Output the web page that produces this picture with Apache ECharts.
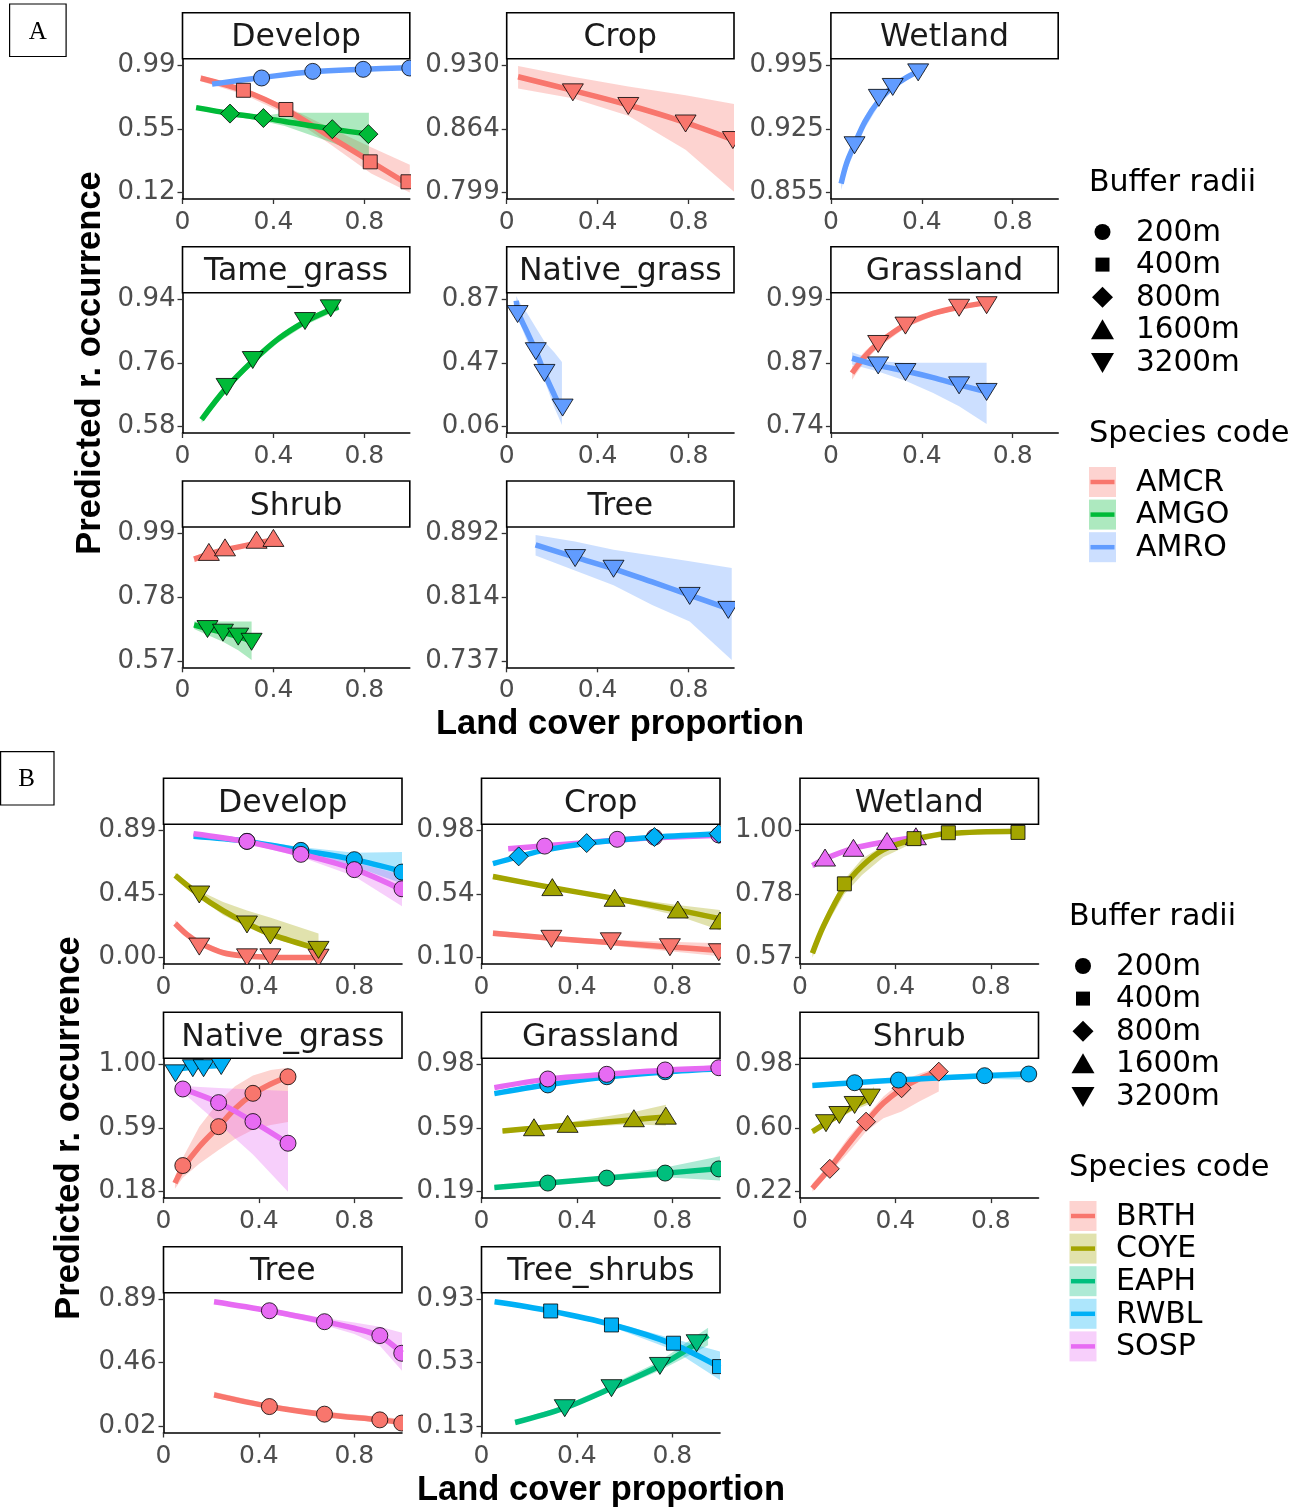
<!DOCTYPE html>
<html><head><meta charset="utf-8">
<script src="https://cdn.jsdelivr.net/npm/echarts/dist/echarts.min.js"></script>
<style>html,body{margin:0;padding:0;background:#fff;}#c{width:1314px;height:1509px;}</style>
</head><body><div id="c"></div>
<script>
// ---------- shared scales / legend data ----------
const X_TICKS = [0, 0.4, 0.8];
const X_LABELS = ['0', '0.4', '0.8'];
const BUFFERS = ['200m', '400m', '800m', '1600m', '3200m'];
const SPECIES_A = ['AMCR', 'AMGO', 'AMRO'];
const COLORS_A = ['#F8766D', '#00BA38', '#619CFF'];
const SPECIES_B = ['BRTH', 'COYE', 'EAPH', 'RWBL', 'SOSP'];
const COLORS_B = ['#F8766D', '#A3A500', '#00BF7D', '#00B0F6', '#E76BF3'];

// ---------- Figure A ----------  fit rows: [x, fit, lower, upper]; pts: [x, y]
const A_Develop_ticks = [0.12, 0.555, 0.99];
const A_Develop_labels = ['0.12', '0.55', '0.99'];
const A_Develop_AMCR_fit = [[0.08,0.90,0.88,0.92],[0.27,0.815,0.79,0.835],[0.455,0.685,0.655,0.71],[0.65,0.50,0.45,0.56],[0.83,0.33,0.25,0.43],[1.0,0.17,0.12,0.31]];
const A_Develop_AMCR_pts = [[0.268,0.818],[0.455,0.687],[0.826,0.330],[0.992,0.194]];
const A_Develop_AMGO_fit = [[0.06,0.70,0.685,0.715],[0.21,0.66,0.645,0.675],[0.36,0.628,0.605,0.645],[0.45,0.605,0.575,0.665],[0.66,0.553,0.46,0.665],[0.82,0.52,0.36,0.665]];
const A_Develop_AMGO_pts = [[0.209,0.659],[0.356,0.629],[0.659,0.553],[0.818,0.519]];
const A_Develop_AMRO_fit = [[0.13,0.86,0.855,0.865],[0.35,0.905,0.90,0.91],[0.57,0.945,0.94,0.95],[0.8,0.962,0.958,0.966],[1.0,0.972,0.968,0.976]];
const A_Develop_AMRO_pts = [[0.348,0.902],[0.573,0.947],[0.795,0.961],[1.0,0.970]];

const A_Crop_ticks = [0.799, 0.8645, 0.930];
const A_Crop_labels = ['0.799', '0.864', '0.930'];
const A_Crop_AMCR_fit = [[0.05,0.918,0.906,0.929],[0.29,0.904,0.896,0.918],[0.535,0.889,0.878,0.908],[0.787,0.871,0.843,0.899],[1.0,0.853,0.800,0.890]];
const A_Crop_AMCR_pts = [[0.291,0.902],[0.535,0.888],[0.787,0.870],[0.995,0.853]];

const A_Wetland_ticks = [0.855, 0.925, 0.995];
const A_Wetland_labels = ['0.855', '0.925', '0.995'];
const A_Wetland_AMRO_fit = [[0.045,0.865,0.858,0.872],[0.07,0.888,0.88,0.895],[0.104,0.908,0.90,0.915],[0.15,0.933,0.926,0.939],[0.211,0.956,0.951,0.961],[0.272,0.971,0.967,0.975],[0.33,0.981,0.978,0.984],[0.408,0.991,0.989,0.993]];
const A_Wetland_AMRO_pts = [[0.104,0.907],[0.211,0.959],[0.272,0.971],[0.384,0.987]];

const A_Tame_ticks = [0.58, 0.76, 0.94];
const A_Tame_labels = ['0.58', '0.76', '0.94'];
const A_Tame_AMGO_fit = [[0.084,0.60,0.59,0.612],[0.194,0.69,0.68,0.70],[0.309,0.765,0.755,0.775],[0.42,0.827,0.817,0.837],[0.539,0.876,0.866,0.886],[0.652,0.91,0.90,0.92],[0.686,0.918,0.908,0.928]];
const A_Tame_AMGO_pts = [[0.194,0.692],[0.309,0.768],[0.539,0.878],[0.652,0.914]];

const A_Native_ticks = [0.06, 0.465, 0.87];
const A_Native_labels = ['0.06', '0.47', '0.87'];
const A_Native_AMRO_fit = [[0.042,0.86,0.81,0.89],[0.052,0.78,0.74,0.86],[0.09,0.66,0.60,0.78],[0.128,0.54,0.50,0.69],[0.166,0.40,0.355,0.60],[0.21,0.26,0.18,0.53],[0.243,0.16,0.07,0.47]];
const A_Native_AMRO_pts = [[0.048,0.775],[0.128,0.539],[0.166,0.401],[0.246,0.181]];

const A_Grass_ticks = [0.74, 0.865, 0.99];
const A_Grass_labels = ['0.74', '0.87', '0.99'];
const A_Grass_AMCR_fit = [[0.093,0.845,0.832,0.858],[0.15,0.878,0.868,0.888],[0.208,0.903,0.895,0.911],[0.328,0.94,0.934,0.946],[0.45,0.962,0.957,0.967],[0.564,0.974,0.97,0.978],[0.688,0.983,0.979,0.987]];
const A_Grass_AMCR_pts = [[0.208,0.902],[0.328,0.938],[0.564,0.973],[0.685,0.978]];
const A_Grass_AMRO_fit = [[0.093,0.874,0.862,0.886],[0.208,0.86,0.848,0.868],[0.328,0.849,0.83,0.865],[0.45,0.836,0.806,0.865],[0.564,0.822,0.78,0.865],[0.685,0.808,0.745,0.865]];
const A_Grass_AMRO_pts = [[0.208,0.860],[0.328,0.847],[0.564,0.821],[0.685,0.808]];

const A_Shrub_ticks = [0.57, 0.78, 0.99];
const A_Shrub_labels = ['0.57', '0.78', '0.99'];
const A_Shrub_AMCR_fit = [[0.051,0.905,0.895,0.915],[0.116,0.922,0.913,0.931],[0.187,0.936,0.928,0.944],[0.326,0.958,0.951,0.965],[0.40,0.968,0.96,0.975]];
const A_Shrub_AMCR_pts = [[0.116,0.929],[0.187,0.944],[0.326,0.969],[0.400,0.975]];
const A_Shrub_AMGO_fit = [[0.051,0.689,0.675,0.70],[0.11,0.676,0.655,0.70],[0.178,0.664,0.633,0.70],[0.245,0.650,0.605,0.70],[0.304,0.636,0.573,0.70]];
const A_Shrub_AMGO_pts = [[0.110,0.675],[0.178,0.663],[0.245,0.650],[0.304,0.633]];

const A_Tree_ticks = [0.737, 0.8145, 0.892];
const A_Tree_labels = ['0.737', '0.814', '0.892'];
const A_Tree_AMRO_fit = [[0.127,0.878,0.865,0.890],[0.30,0.863,0.847,0.882],[0.47,0.849,0.829,0.872],[0.64,0.833,0.805,0.865],[0.805,0.817,0.785,0.858],[0.99,0.799,0.738,0.850]];
const A_Tree_AMRO_pts = [[0.301,0.862],[0.470,0.849],[0.805,0.816],[0.975,0.799]];

// ---------- Figure B ----------
const B_Develop_ticks = [0.0, 0.445, 0.89];
const B_Develop_labels = ['0.00', '0.45', '0.89'];
const B_Develop_BRTH_fit = [[0.049,0.24,0.215,0.265],[0.10,0.16,0.14,0.185],[0.15,0.105,0.09,0.125],[0.25,0.035,0.025,0.05],[0.35,0.012,0.007,0.02],[0.45,0.004,0.002,0.008],[0.65,0.001,0.0,0.003]];
const B_Develop_BRTH_pts = [[0.150,0.078],[0.350,0.003],[0.448,0.003],[0.650,0.0]];
const B_Develop_COYE_fit = [[0.049,0.577,0.56,0.595],[0.15,0.44,0.42,0.47],[0.25,0.33,0.30,0.39],[0.35,0.24,0.215,0.33],[0.45,0.165,0.14,0.28],[0.65,0.06,0.045,0.17]];
const B_Develop_COYE_pts = [[0.150,0.443],[0.350,0.233],[0.448,0.156],[0.650,0.055]];
const B_Develop_RWBL_fit = [[0.126,0.850,0.84,0.86],[0.35,0.815,0.80,0.83],[0.576,0.752,0.73,0.775],[0.80,0.687,0.64,0.735],[1.0,0.605,0.52,0.74]];
const B_Develop_RWBL_pts = [[0.350,0.815],[0.576,0.752],[0.800,0.687],[1.0,0.600]];
const B_Develop_SOSP_fit = [[0.126,0.868,0.855,0.88],[0.35,0.812,0.80,0.825],[0.576,0.726,0.705,0.75],[0.80,0.62,0.57,0.67],[1.0,0.475,0.36,0.58]];
const B_Develop_SOSP_pts = [[0.350,0.815],[0.576,0.724],[0.800,0.617],[1.0,0.483]];

const B_Crop_ticks = [0.10, 0.54, 0.98];
const B_Crop_labels = ['0.10', '0.54', '0.98'];
const B_Crop_BRTH_fit = [[0.048,0.27,0.25,0.29],[0.293,0.235,0.22,0.25],[0.542,0.205,0.185,0.225],[0.79,0.175,0.145,0.21],[1.0,0.15,0.11,0.20]];
const B_Crop_BRTH_pts = [[0.293,0.231],[0.542,0.214],[0.790,0.173],[0.995,0.138]];
const B_Crop_COYE_fit = [[0.048,0.663,0.645,0.68],[0.297,0.585,0.575,0.597],[0.558,0.51,0.495,0.525],[0.823,0.43,0.39,0.465],[1.0,0.37,0.29,0.43]];
const B_Crop_COYE_pts = [[0.297,0.589],[0.558,0.515],[0.823,0.434],[1.0,0.358]];
const B_Crop_RWBL_fit = [[0.048,0.751,0.74,0.762],[0.156,0.80,0.79,0.81],[0.265,0.845,0.835,0.855],[0.441,0.893,0.885,0.90],[0.569,0.915,0.908,0.922],[0.725,0.935,0.928,0.942],[1.0,0.958,0.95,0.966]];
const B_Crop_RWBL_pts = [[0.156,0.802],[0.441,0.894],[0.725,0.936],[0.995,0.959]];
const B_Crop_SOSP_fit = [[0.112,0.855,0.847,0.863],[0.265,0.875,0.868,0.882],[0.441,0.898,0.892,0.904],[0.569,0.914,0.908,0.92],[0.725,0.93,0.924,0.936],[1.0,0.948,0.94,0.956]];
const B_Crop_SOSP_pts = [[0.265,0.873],[0.569,0.920],[0.725,0.935],[0.995,0.950]];

const B_Wetland_ticks = [0.57, 0.785, 1.0];
const B_Wetland_labels = ['0.57', '0.78', '1.00'];
const B_Wetland_COYE_fit = [[0.052,0.585,0.57,0.60],[0.10,0.68,0.665,0.70],[0.186,0.81,0.785,0.835],[0.26,0.88,0.85,0.905],[0.349,0.935,0.91,0.95],[0.478,0.97,0.96,0.978],[0.622,0.99,0.985,0.993],[0.914,0.998,0.996,1.0]];
const B_Wetland_COYE_pts = [[0.186,0.820],[0.478,0.973],[0.622,0.993],[0.914,0.994]];
const B_Wetland_SOSP_fit = [[0.052,0.882,0.872,0.892],[0.105,0.905,0.896,0.914],[0.224,0.94,0.933,0.947],[0.365,0.963,0.957,0.969],[0.486,0.978,0.972,0.984]];
const B_Wetland_SOSP_pts = [[0.105,0.909],[0.224,0.942],[0.365,0.965],[0.486,0.981]];

const B_Native_ticks = [0.18, 0.59, 1.0];
const B_Native_labels = ['0.18', '0.59', '1.00'];
const B_Native_BRTH_fit = [[0.048,0.236,0.20,0.28],[0.081,0.33,0.27,0.40],[0.15,0.47,0.36,0.60],[0.231,0.60,0.45,0.76],[0.30,0.715,0.52,0.86],[0.375,0.81,0.58,0.93],[0.45,0.875,0.61,0.965],[0.522,0.922,0.63,0.98]];
const B_Native_BRTH_pts = [[0.081,0.349],[0.231,0.600],[0.375,0.815],[0.522,0.922]];
const B_Native_RWBL_fit = [[0.05,0.97,0.95,0.985],[0.123,0.985,0.975,0.992],[0.168,0.99,0.982,0.995],[0.242,0.995,0.99,0.998]];
const B_Native_RWBL_pts = [[0.050,0.944],[0.123,0.977],[0.168,0.977],[0.242,0.991]];
const B_Native_SOSP_fit = [[0.057,0.86,0.84,0.875],[0.081,0.845,0.82,0.862],[0.231,0.755,0.62,0.85],[0.375,0.633,0.42,0.84],[0.522,0.493,0.18,0.83]];
const B_Native_SOSP_pts = [[0.081,0.843],[0.231,0.755],[0.375,0.633],[0.522,0.493]];

const B_Grass_ticks = [0.19, 0.585, 0.98];
const B_Grass_labels = ['0.19', '0.59', '0.98'];
const B_Grass_COYE_fit = [[0.088,0.568,0.555,0.58],[0.22,0.585,0.575,0.60],[0.361,0.603,0.59,0.62],[0.639,0.638,0.61,0.685],[0.773,0.655,0.60,0.73]];
const B_Grass_COYE_pts = [[0.220,0.591],[0.361,0.612],[0.639,0.647],[0.773,0.663]];
const B_Grass_EAPH_fit = [[0.054,0.216,0.205,0.228],[0.278,0.245,0.235,0.255],[0.525,0.275,0.262,0.29],[0.77,0.305,0.28,0.34],[1.0,0.335,0.26,0.41]];
const B_Grass_EAPH_pts = [[0.278,0.244],[0.525,0.275],[0.770,0.306],[0.995,0.332]];
const B_Grass_RWBL_fit = [[0.054,0.80,0.79,0.812],[0.278,0.855,0.847,0.863],[0.525,0.903,0.897,0.909],[0.77,0.935,0.93,0.94],[1.0,0.955,0.95,0.96]];
const B_Grass_RWBL_pts = [[0.278,0.854],[0.525,0.905],[0.770,0.936]];
const B_Grass_SOSP_fit = [[0.054,0.837,0.83,0.845],[0.278,0.89,0.884,0.896],[0.525,0.92,0.915,0.925],[0.77,0.945,0.94,0.95],[1.0,0.96,0.955,0.965]];
const B_Grass_SOSP_pts = [[0.278,0.891],[0.525,0.920],[0.770,0.947],[0.995,0.961]];

const B_Shrub_ticks = [0.22, 0.60, 0.98];
const B_Shrub_labels = ['0.22', '0.60', '0.98'];
const B_Shrub_BRTH_fit = [[0.052,0.24,0.22,0.27],[0.125,0.36,0.33,0.39],[0.2,0.50,0.45,0.54],[0.277,0.635,0.58,0.67],[0.35,0.75,0.66,0.79],[0.426,0.835,0.70,0.88],[0.5,0.895,0.76,0.925],[0.582,0.94,0.82,0.965]];
const B_Shrub_BRTH_pts = [[0.125,0.357],[0.277,0.639],[0.426,0.839],[0.582,0.938]];
const B_Shrub_COYE_fit = [[0.052,0.58,0.565,0.595],[0.109,0.63,0.615,0.645],[0.165,0.68,0.66,0.70],[0.229,0.735,0.71,0.76],[0.293,0.78,0.745,0.81],[0.31,0.80,0.76,0.85]];
const B_Shrub_COYE_pts = [[0.109,0.630],[0.165,0.679],[0.229,0.739],[0.293,0.783]];
const B_Shrub_RWBL_fit = [[0.052,0.855,0.84,0.87],[0.229,0.872,0.86,0.884],[0.413,0.888,0.876,0.90],[0.774,0.914,0.895,0.93],[0.959,0.924,0.89,0.945]];
const B_Shrub_RWBL_pts = [[0.229,0.872],[0.413,0.888],[0.774,0.914],[0.959,0.924]];

const B_Tree_ticks = [0.02, 0.455, 0.89];
const B_Tree_labels = ['0.02', '0.46', '0.89'];
const B_Tree_BRTH_fit = [[0.212,0.234,0.215,0.255],[0.444,0.155,0.14,0.17],[0.675,0.10,0.085,0.12],[0.907,0.063,0.045,0.085],[1.0,0.045,0.025,0.07]];
const B_Tree_BRTH_pts = [[0.444,0.154],[0.675,0.102],[0.907,0.063],[0.999,0.041]];
const B_Tree_SOSP_fit = [[0.212,0.872,0.86,0.885],[0.444,0.81,0.795,0.825],[0.675,0.735,0.71,0.76],[0.80,0.69,0.65,0.73],[0.907,0.635,0.57,0.70],[1.0,0.52,0.40,0.66]];
const B_Tree_SOSP_pts = [[0.444,0.810],[0.675,0.735],[0.907,0.640],[0.999,0.519]];

const B_TreeShrub_ticks = [0.13, 0.53, 0.93];
const B_TreeShrub_labels = ['0.13', '0.53', '0.93'];
const B_TreeShrub_EAPH_fit = [[0.141,0.153,0.14,0.165],[0.349,0.245,0.23,0.26],[0.545,0.37,0.35,0.39],[0.748,0.51,0.48,0.54],[0.902,0.65,0.60,0.70],[0.95,0.70,0.64,0.75]];
const B_TreeShrub_EAPH_pts = [[0.349,0.243],[0.545,0.369],[0.748,0.509],[0.902,0.652]];
const B_TreeShrub_RWBL_fit = [[0.055,0.913,0.90,0.925],[0.29,0.855,0.845,0.865],[0.545,0.77,0.755,0.785],[0.805,0.645,0.61,0.68],[1.0,0.50,0.42,0.60]];
const B_TreeShrub_RWBL_pts = [[0.290,0.855],[0.545,0.767],[0.805,0.652],[0.998,0.505]];

// ---------- panel list (built from the arrays above) ----------
const PANELS = [
  {fig:'A', name:'Develop', r:0, c:0, ticks:A_Develop_ticks, labels:A_Develop_labels, layers:[['AMCR','400m',A_Develop_AMCR_fit,A_Develop_AMCR_pts],['AMGO','800m',A_Develop_AMGO_fit,A_Develop_AMGO_pts],['AMRO','200m',A_Develop_AMRO_fit,A_Develop_AMRO_pts]]},
  {fig:'A', name:'Crop', r:0, c:1, ticks:A_Crop_ticks, labels:A_Crop_labels, layers:[['AMCR','3200m',A_Crop_AMCR_fit,A_Crop_AMCR_pts]]},
  {fig:'A', name:'Wetland', r:0, c:2, ticks:A_Wetland_ticks, labels:A_Wetland_labels, layers:[['AMRO','3200m',A_Wetland_AMRO_fit,A_Wetland_AMRO_pts]]},
  {fig:'A', name:'Tame_grass', r:1, c:0, ticks:A_Tame_ticks, labels:A_Tame_labels, layers:[['AMGO','3200m',A_Tame_AMGO_fit,A_Tame_AMGO_pts]]},
  {fig:'A', name:'Native_grass', r:1, c:1, ticks:A_Native_ticks, labels:A_Native_labels, layers:[['AMRO','3200m',A_Native_AMRO_fit,A_Native_AMRO_pts]]},
  {fig:'A', name:'Grassland', r:1, c:2, ticks:A_Grass_ticks, labels:A_Grass_labels, layers:[['AMCR','3200m',A_Grass_AMCR_fit,A_Grass_AMCR_pts],['AMRO','3200m',A_Grass_AMRO_fit,A_Grass_AMRO_pts]]},
  {fig:'A', name:'Shrub', r:2, c:0, ticks:A_Shrub_ticks, labels:A_Shrub_labels, layers:[['AMCR','1600m',A_Shrub_AMCR_fit,A_Shrub_AMCR_pts],['AMGO','3200m',A_Shrub_AMGO_fit,A_Shrub_AMGO_pts]]},
  {fig:'A', name:'Tree', r:2, c:1, ticks:A_Tree_ticks, labels:A_Tree_labels, layers:[['AMRO','3200m',A_Tree_AMRO_fit,A_Tree_AMRO_pts]]},
  {fig:'B', name:'Develop', r:0, c:0, ticks:B_Develop_ticks, labels:B_Develop_labels, layers:[['BRTH','3200m',B_Develop_BRTH_fit,B_Develop_BRTH_pts],['COYE','3200m',B_Develop_COYE_fit,B_Develop_COYE_pts],['RWBL','200m',B_Develop_RWBL_fit,B_Develop_RWBL_pts],['SOSP','200m',B_Develop_SOSP_fit,B_Develop_SOSP_pts]]},
  {fig:'B', name:'Crop', r:0, c:1, ticks:B_Crop_ticks, labels:B_Crop_labels, layers:[['BRTH','3200m',B_Crop_BRTH_fit,B_Crop_BRTH_pts],['COYE','1600m',B_Crop_COYE_fit,B_Crop_COYE_pts],['SOSP','200m',B_Crop_SOSP_fit,B_Crop_SOSP_pts],['RWBL','800m',B_Crop_RWBL_fit,B_Crop_RWBL_pts]]},
  {fig:'B', name:'Wetland', r:0, c:2, ticks:B_Wetland_ticks, labels:B_Wetland_labels, layers:[['SOSP','1600m',B_Wetland_SOSP_fit,B_Wetland_SOSP_pts],['COYE','400m',B_Wetland_COYE_fit,B_Wetland_COYE_pts]]},
  {fig:'B', name:'Native_grass', r:1, c:0, ticks:B_Native_ticks, labels:B_Native_labels, layers:[['BRTH','200m',B_Native_BRTH_fit,B_Native_BRTH_pts],['RWBL','3200m',B_Native_RWBL_fit,B_Native_RWBL_pts],['SOSP','200m',B_Native_SOSP_fit,B_Native_SOSP_pts]]},
  {fig:'B', name:'Grassland', r:1, c:1, ticks:B_Grass_ticks, labels:B_Grass_labels, layers:[['COYE','1600m',B_Grass_COYE_fit,B_Grass_COYE_pts],['EAPH','200m',B_Grass_EAPH_fit,B_Grass_EAPH_pts],['RWBL','200m',B_Grass_RWBL_fit,B_Grass_RWBL_pts],['SOSP','200m',B_Grass_SOSP_fit,B_Grass_SOSP_pts]]},
  {fig:'B', name:'Shrub', r:1, c:2, ticks:B_Shrub_ticks, labels:B_Shrub_labels, layers:[['BRTH','800m',B_Shrub_BRTH_fit,B_Shrub_BRTH_pts],['COYE','3200m',B_Shrub_COYE_fit,B_Shrub_COYE_pts],['RWBL','200m',B_Shrub_RWBL_fit,B_Shrub_RWBL_pts]]},
  {fig:'B', name:'Tree', r:2, c:0, ticks:B_Tree_ticks, labels:B_Tree_labels, layers:[['BRTH','200m',B_Tree_BRTH_fit,B_Tree_BRTH_pts],['SOSP','200m',B_Tree_SOSP_fit,B_Tree_SOSP_pts]]},
  {fig:'B', name:'Tree_shrubs', r:2, c:1, ticks:B_TreeShrub_ticks, labels:B_TreeShrub_labels, layers:[['EAPH','3200m',B_TreeShrub_EAPH_fit,B_TreeShrub_EAPH_pts],['RWBL','400m',B_TreeShrub_RWBL_fit,B_TreeShrub_RWBL_pts]]}
];

// ---------- layout / style ----------
const FIG = {
  A: {colLeft:[182.5, 506.7, 830.9], W:227.3, stripTop:[12.7, 246.7, 481.0], H:140.3,
      xTitle:[620, 724], yTitle:[90, 363],
      legX:1089, symX:1102.5, labX:1136, bufTitleY:183, bufY0:232, spTitleY:434, spY0:482},
  B: {colLeft:[163.5, 481.5, 800.0], W:238.5, stripTop:[778.3, 1012.3, 1246.7], H:139.8,
      xTitle:[601, 1490], yTitle:[69.5, 1128],
      legX:1069, symX:1083, labX:1116, bufTitleY:917, bufY0:966, spTitleY:1168, spY0:1216}
};
const STRIP_H = 46;
const LEG_STEP = 32.6;
const REG = 'DejaVu Sans';

function colorOf(fig, sp) {
  return fig === 'A' ? COLORS_A[SPECIES_A.indexOf(sp)] : COLORS_B[SPECIES_B.indexOf(sp)];
}
function rgba(hex, a) {
  const n = parseInt(hex.slice(1), 16);
  return 'rgba(' + ((n >> 16) & 255) + ',' + ((n >> 8) & 255) + ',' + (n & 255) + ',' + a + ')';
}
function labelFrom(ticks, labels) {
  return function (v) {
    for (let k = 0; k < ticks.length; k++) if (Math.abs(ticks[k] - v) < 1e-7) return labels[k];
    return '';
  };
}
// marker outline shapes (pixel sizes) placed at library-computed coordinates
function markerShape(buf, c, fill) {
  const x = c[0], y = c[1];
  const st = {fill:fill, stroke:'#000', lineWidth:0.8};
  if (buf === '200m') return {type:'circle', shape:{cx:x, cy:y, r:8}, style:st};
  if (buf === '400m') return {type:'rect', shape:{x:x - 7, y:y - 7, width:14, height:14}, style:st};
  if (buf === '800m') return {type:'polygon', shape:{points:[[x, y - 9.5], [x + 9.5, y], [x, y + 9.5], [x - 9.5, y]]}, style:st};
  if (buf === '1600m') return {type:'polygon', shape:{points:[[x - 10.5, y + 8.5], [x + 10.5, y + 8.5], [x, y - 8.5]]}, style:st};
  return {type:'polygon', shape:{points:[[x - 10.5, y - 8.5], [x + 10.5, y - 8.5], [x, y + 8.5]]}, style:st};
}

const option = {animation:false, grid:[], xAxis:[], yAxis:[], series:[], graphic:[]};
const G = option.graphic;

PANELS.forEach(function (p, i) {
  const L = FIG[p.fig];
  const left = L.colLeft[p.c];
  const sTop = L.stripTop[p.r];
  const top = sTop + STRIP_H;
  const R = p.ticks[2] - p.ticks[0];
  option.grid.push({left:left, top:top, width:L.W, height:L.H, containLabel:false});
  option.xAxis.push({
    gridIndex:i, type:'value', min:0, max:1,
    axisLine:{show:true, onZero:false, lineStyle:{color:'#000', width:1.6}},
    axisTick:{show:true, length:5, customValues:X_TICKS, lineStyle:{color:'#333', width:1.3}},
    axisLabel:{customValues:X_TICKS, formatter:labelFrom(X_TICKS, X_LABELS), fontFamily:REG, fontSize:25, color:'#4D4D4D', margin:11},
    splitLine:{show:false}
  });
  option.yAxis.push({
    gridIndex:i, type:'value', min:p.ticks[0] - 0.05 * R, max:p.ticks[2] + 0.05 * R,
    axisLine:{show:true, onZero:false, lineStyle:{color:'#000', width:1.6}},
    axisTick:{show:true, length:5, customValues:p.ticks, lineStyle:{color:'#333', width:1.3}},
    axisLabel:{customValues:p.ticks, formatter:labelFrom(p.ticks, p.labels), fontFamily:REG, fontSize:26, color:'#4D4D4D', margin:7, padding:[8, 0, 0, 0]},
    splitLine:{show:false}
  });
  p.layers.forEach(function (ly) {
    const col = colorOf(p.fig, ly[0]);
    const fit = ly[2];
    option.series.push({
      type:'custom', xAxisIndex:i, yAxisIndex:i, clip:true, z:1, silent:true,
      data:fit.map(function (r) { return [r[0], r[2], r[3]]; }),
      encode:{x:0, y:[1, 2]},
      renderItem:function (params, api) {
        if (params.dataIndex !== 0) return;
        const upper = fit.map(function (r) { return api.coord([r[0], r[3]]); });
        const lower = fit.map(function (r) { return api.coord([r[0], r[2]]); }).reverse();
        return {type:'polygon', shape:{points:upper.concat(lower)}, style:{fill:rgba(col, 0.32), stroke:null}};
      }
    });
    option.series.push({
      type:'line', xAxisIndex:i, yAxisIndex:i, z:2, silent:true, smooth:0.35, symbol:'none',
      data:fit.map(function (r) { return [r[0], r[1]]; }),
      lineStyle:{color:col, width:5.5}
    });
  });
  p.layers.forEach(function (ly) {
    const col = colorOf(p.fig, ly[0]);
    const buf = ly[1];
    option.series.push({
      type:'custom', xAxisIndex:i, yAxisIndex:i, z:3, silent:true, clip:true,
      data:ly[3], encode:{x:0, y:1},
      renderItem:function (params, api) {
        return markerShape(buf, api.coord([api.value(0), api.value(1)]), col);
      }
    });
  });
  // facet strip
  G.push({type:'rect', shape:{x:left, y:sTop, width:L.W, height:STRIP_H}, style:{fill:'#fff', stroke:'#000', lineWidth:1.6}, z:10});
  G.push({type:'text', x:left + L.W / 2, y:sTop + STRIP_H / 2 + 2.5, z:11,
    style:{text:p.name, fontFamily:REG, fontSize:31.5, fill:'#1A1A1A', align:'center', verticalAlign:'middle', textAlign:'center', textVerticalAlign:'middle'}});
});

function txt(x, y, s, size) {
  return {type:'text', x:x, y:y, z:11,
    style:{text:s, fontFamily:REG, fontSize:size, fill:'#000', align:'left', verticalAlign:'middle', textAlign:'left', textVerticalAlign:'middle'}};
}
function legendSymbol(b, cx, cy) {
  const st = {fill:'#000'};
  if (b === '200m') return {type:'circle', shape:{cx:cx, cy:cy, r:8}, style:st, z:11};
  if (b === '400m') return {type:'rect', shape:{x:cx - 7, y:cy - 7, width:14, height:14}, style:st, z:11};
  if (b === '800m') return {type:'polygon', shape:{points:[[cx, cy - 10.5], [cx + 10.5, cy], [cx, cy + 10.5], [cx - 10.5, cy]]}, style:st, z:11};
  if (b === '1600m') return {type:'polygon', shape:{points:[[cx - 11.5, cy + 9.5], [cx + 11.5, cy + 9.5], [cx, cy - 10.5]]}, style:st, z:11};
  return {type:'polygon', shape:{points:[[cx - 11.5, cy - 9.5], [cx + 11.5, cy - 9.5], [cx, cy + 10.5]]}, style:st, z:11};
}

['A', 'B'].forEach(function (f) {
  const L = FIG[f];
  G.push({type:'text', x:L.xTitle[0], y:L.xTitle[1], z:11,
    style:{text:'Land cover proportion', fontFamily:'Liberation Sans', fontWeight:'bold', fontSize:34.5, fill:'#000', align:'center', verticalAlign:'middle', textAlign:'center', textVerticalAlign:'middle'}});
  G.push({type:'text', x:L.yTitle[0], y:L.yTitle[1], rotation:Math.PI / 2, z:11,
    style:{text:'Predicted r. occurrence', fontFamily:'Liberation Sans', fontWeight:'bold', fontSize:34.5, fill:'#000', align:'center', verticalAlign:'middle', textAlign:'center', textVerticalAlign:'middle'}});
  G.push(txt(L.legX, L.bufTitleY, 'Buffer radii', 30));
  BUFFERS.forEach(function (b, k) {
    const y = L.bufY0 + k * LEG_STEP;
    G.push(legendSymbol(b, L.symX, y));
    G.push(txt(L.labX, y + 1, b, 29.5));
  });
  G.push(txt(L.legX, L.spTitleY, 'Species code', 30.5));
  const sps = f === 'A' ? SPECIES_A : SPECIES_B;
  const cols = f === 'A' ? COLORS_A : COLORS_B;
  sps.forEach(function (s, k) {
    const y = L.spY0 + k * LEG_STEP;
    G.push({type:'rect', shape:{x:L.symX - 13.5, y:y - 15, width:27, height:30}, style:{fill:rgba(cols[k], 0.32)}, z:11});
    G.push({type:'line', shape:{x1:L.symX - 12, y1:y, x2:L.symX + 12, y2:y}, style:{stroke:cols[k], lineWidth:4.5}, z:12});
    G.push(txt(L.labX, y + 1, s, 30));
  });
});

// figure tags
G.push({type:'rect', shape:{x:9.6, y:4, width:56.5, height:52.5}, style:{fill:'#fff', stroke:'#000', lineWidth:1.2}, z:11});
G.push({type:'text', x:37.9, y:32, z:12, style:{text:'A', fontFamily:'Liberation Serif', fontSize:25, fill:'#000', align:'center', verticalAlign:'middle', textAlign:'center', textVerticalAlign:'middle'}});
G.push({type:'rect', shape:{x:0.6, y:751.7, width:53.4, height:53.3}, style:{fill:'#fff', stroke:'#000', lineWidth:1.2}, z:11});
G.push({type:'text', x:26.7, y:779.5, z:12, style:{text:'B', fontFamily:'Liberation Serif', fontSize:25, fill:'#000', align:'center', verticalAlign:'middle', textAlign:'center', textVerticalAlign:'middle'}});

const chart = echarts.init(document.getElementById('c'), null, {renderer:'canvas', width:1314, height:1509});
chart.setOption(option);
</script></body></html>
